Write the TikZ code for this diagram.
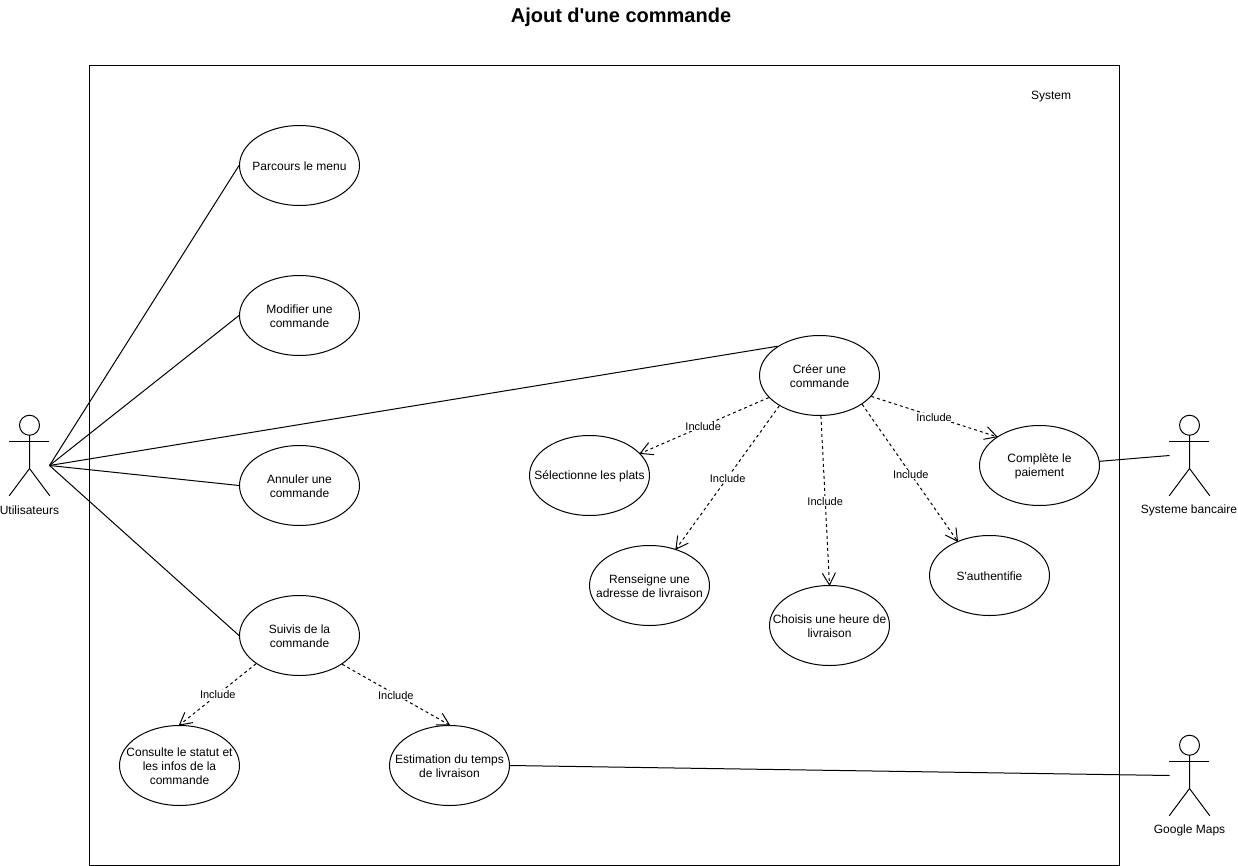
\documentclass[tikz,border=0pt]{standalone}
\usepackage{fontspec}
\setmainfont{Liberation Sans}[Ligatures=TeXOff]
\usetikzlibrary{shapes.geometric}

\pgfarrowsdeclare{openv}{openv}
  {\pgfarrowsleftextend{-1pt}\pgfarrowsrightextend{0pt}}
  {\pgfsetdash{}{0pt}\pgfsetlinewidth{.75pt}
   \pgfpathmoveto{\pgfpoint{-9pt}{4.9pt}}
   \pgfpathlineto{\pgfpointorigin}
   \pgfpathlineto{\pgfpoint{-9pt}{-4.9pt}}
   \pgfusepathqstroke}

\newcommand{\stickman}[1]{
  \draw[thing] (#1.north) ++(0,10) circle [radius=10];
  \draw[thing] (#1.north) ++(0,20) -- ++(0,33.3) -- (#1.south west);
  \draw[thing] (#1.north) ++(0,53.3) -- (#1.south east);
  \draw[thing] (#1.north west) ++(0,26.7) -- ++(40,0);
}

\begin{document}
\begin{tikzpicture}[x=.75pt,y=-.75pt,
    thing/.style={draw=black,line width=.75pt},
    usecase/.style={thing,ellipse,minimum width=90pt,minimum height=60pt,inner sep=0pt,
      label={[casetext]center:#1}},
    casetext/.style={align=center,inner sep=0pt,yshift=-.75pt,font=\fontsize{9}{10.5}\selectfont},
    actor/.style={minimum width=30pt,minimum height=60pt,inner sep=0pt},
    caption/.style={font=\fontsize{9}{10.5}\selectfont,inner sep=0pt},
    include/.style={thing,dash pattern=on 2.25pt off 2.25pt,-openv},
    inclabel/.style={midway,fill=white,inner sep=.5pt,yshift=-.5pt,font=\fontsize{8.25}{10}\selectfont}]
  \useasboundingbox (0,0) rectangle (1238,866);
  \node[font=\bfseries\fontsize{15}{18}\selectfont,inner sep=0pt] (title) at (621,17) {Ajout d'une commande};
  \node[thing,minimum width=772.5pt,minimum height=600pt,inner sep=0pt] (system) at (604.5,465.5) {};
  \node[caption] (systemlabel) at (1051,96.5) {System};

  % actors
  \node[actor] (utilisateurs) at (29.5,455.5) {};
  \node[actor] (banque) at (1189.5,455.5) {};
  \node[actor] (maps) at (1189.5,775.5) {};
  \stickman{utilisateurs}
  \stickman{banque}
  \stickman{maps}
  \node[caption] (utilisateurslabel) at (29.5,510.5) {Utilisateurs};
  \node[caption] (banquelabel) at (1189,510.5) {Systeme bancaire};
  \node[caption] (mapslabel) at (1189.5,830.5) {Google Maps};
  \coordinate (hand) at (49.5,465.5);
  \coordinate (banquehand) at (1169.5,455.5);
  \coordinate (mapshand) at (1169.5,775.5);

  % use cases
  \node[usecase={Parcours le menu}] (parcours) at (299.5,165.5) {};
  \node[usecase={Modifier une\\commande}] (modifier) at (299.5,315.5) {};
  \node[usecase={Annuler une\\commande}] (annuler) at (299.5,485.5) {};
  \node[usecase={Suivis de la\\commande}] (suivis) at (299.5,635.5) {};
  \node[usecase={Consulte le statut et\\les infos de la\\commande}] (consulte) at (179.5,765.5) {};
  \node[usecase={Estimation du temps\\de livraison}] (estimation) at (449.5,765.5) {};
  \node[usecase={Créer une\\commande}] (creer) at (819.5,375.5) {};
  \node[usecase={Sélectionne les plats}] (plats) at (589.5,475.5) {};
  \node[usecase={Renseigne une\\adresse de livraison}] (adresse) at (649.5,585.5) {};
  \node[usecase={Choisis une heure de\\livraison}] (heure) at (829.5,625.5) {};
  \node[usecase={S'authentifie}] (auth) at (989.5,575.5) {};
  \node[usecase={Complète le\\paiement}] (paiement) at (1039.5,465.5) {};

  % associations
  \draw[thing] (hand) -- (parcours.west);
  \draw[thing] (hand) -- (modifier.west);
  \draw[thing] (hand) -- (annuler.west);
  \draw[thing] (hand) -- (suivis.west);
  \draw[thing] (hand) -- (creer.145.5);
  \draw[thing] (paiement.4.8) -- (banquehand);
  \draw[thing] (estimation.east) -- (mapshand);

  % includes
  \draw[include] (creer) -- (plats) node[inclabel,pos=.51] {Include};
  \draw[include] (creer.217.2) -- (adresse.54) node[inclabel] {Include};
  \draw[include] (creer.272.9) -- (heure.north) node[inclabel] {Include};
  \draw[include] (creer.326.6) -- (auth.133.2) node[inclabel,pos=.51] {Include};
  \draw[include] (creer.338) -- (paiement.146.5) node[inclabel] {Include};
  \draw[include] (suivis.213.8) -- (consulte.north) node[inclabel] {Include};
  \draw[include] (suivis.326.2) -- (estimation.north) node[inclabel] {Include};
\end{tikzpicture}
\end{document}
